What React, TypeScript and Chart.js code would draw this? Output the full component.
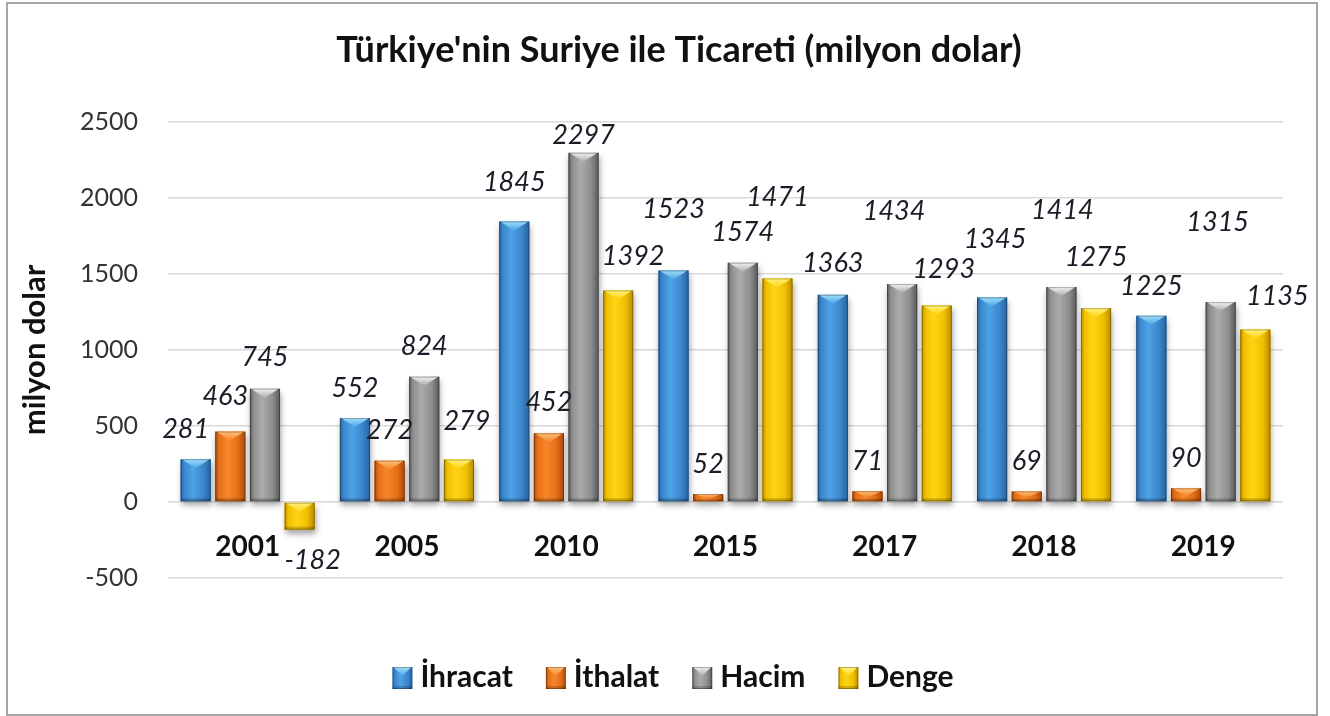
import React, { useEffect, useRef } from 'react';
import { Chart, registerables } from 'chart.js';

Chart.register(...registerables);

// ---- data ----
const years = ['2001', '2005', '2010', '2015', '2017', '2018', '2019'];
const ihracat = [281, 552, 1845, 1523, 1363, 1345, 1225];
const ithalat = [463, 272, 452, 52, 71, 69, 90];
const hacim = [745, 824, 2297, 1574, 1434, 1414, 1315];
const denge = [-182, 279, 1392, 1471, 1293, 1275, 1135];
const seriesNames = ['İhracat', 'İthalat', 'Hacim', 'Denge'];
const yMin = -500;
const yMax = 2500;
const yStep = 500;
const titleText = "Türkiye'nin Suriye ile Ticareti (milyon dolar)";
const yTitleText = 'milyon dolar';

// ---- styles ----
const FONT = 'Lato, "Open Sans", sans-serif';
const palettes = [
  { edge: '#27639e', mid: '#3b86cc', light: '#4ea2e6', hi: '#9fe0fb' },
  { edge: '#a9480c', mid: '#e56f17', light: '#f7862a', hi: '#ffbe7a' },
  { edge: '#595959', mid: '#8e8e8e', light: '#ababab', hi: '#f2f2f2' },
  { edge: '#b88a00', mid: '#f0c000', light: '#ffd414', hi: '#fff27a' },
];
// label nudges [dx, dy] in px relative to default placement (per series, per year)
const labelNudges = [
  [[-10, 0], [0, 0], [0, -9], [0, -31], [0, -2], [3, -28], [0, 0]],
  [[-5, -5], [0, 0], [0, -1], [0, 0], [0, 0], [0, 0], [0, 0]],
  [[0, -1], [0, 0], [0, 12], [0, 0], [-8, -43], [1, -47], [-3, -50]],
  [[13, 0], [8, -8], [15, -4], [0, -51], [7, -6], [0, -21], [22, -3]],
];

function draw3DBar(ctx: CanvasRenderingContext2D, l: number, t: number, w: number, h: number, pal: any, shadow: boolean) {
  if (h <= 0 || w <= 0) return;
  ctx.save();
  if (shadow) {
    ctx.shadowColor = 'rgba(0,0,0,0.35)';
    ctx.shadowBlur = 6;
    ctx.shadowOffsetX = 1;
    ctx.shadowOffsetY = 4;
  }
  const g = ctx.createLinearGradient(l, 0, l + w, 0);
  g.addColorStop(0, pal.edge);
  g.addColorStop(0.12, pal.mid);
  g.addColorStop(0.4, pal.light);
  g.addColorStop(0.75, pal.mid);
  g.addColorStop(1, pal.edge);
  ctx.fillStyle = g;
  ctx.fillRect(l, t, w, h);
  ctx.restore();

  ctx.save();
  ctx.beginPath();
  ctx.rect(l, t, w, h);
  ctx.clip();
  const b = Math.min(9, h * 0.6);
  const gt = ctx.createLinearGradient(0, t, 0, t + b);
  gt.addColorStop(0, pal.hi);
  gt.addColorStop(1, pal.light);
  ctx.fillStyle = gt;
  ctx.beginPath();
  ctx.moveTo(l + 1, t);
  ctx.lineTo(l + w - 1, t);
  ctx.lineTo(l + w / 2, t + b);
  ctx.closePath();
  ctx.fill();
  const bb = Math.min(3, h / 4);
  ctx.fillStyle = 'rgba(0,0,0,0.18)';
  ctx.fillRect(l, t + h - bb, w, bb);
  ctx.strokeStyle = 'rgba(0,0,0,0.28)';
  ctx.lineWidth = 1;
  ctx.strokeRect(l + 0.5, t + 0.5, w - 1, h - 1);
  ctx.restore();
}

const framePlugin = {
  id: 'frame',
  beforeDraw(chart: any) {
    const ctx = chart.ctx;
    ctx.save();
    ctx.fillStyle = '#ffffff';
    ctx.fillRect(0, 0, chart.width, chart.height);
    ctx.strokeStyle = '#a6a6a6';
    ctx.lineWidth = 2;
    ctx.strokeRect(7, 3, 1310, 712);
    ctx.fillStyle = '#111111';
    ctx.font = `bold 36px ${FONT}`;
    ctx.textAlign = 'center';
    ctx.textBaseline = 'middle';
    ctx.fillText(titleText, 679, 50);
    ctx.restore();
  },
};

const bars3dPlugin = {
  id: 'bars3d',
  afterDatasetsDraw(chart: any) {
    const ctx = chart.ctx;
    chart.data.datasets.forEach((ds: any, i: number) => {
      const meta = chart.getDatasetMeta(i);
      meta.data.forEach((el: any) => {
        const p = el.getProps(['x', 'y', 'base', 'width'], true);
        draw3DBar(ctx, p.x - p.width / 2, Math.min(p.y, p.base), p.width, Math.abs(p.base - p.y), palettes[i], true);
      });
    });
    ctx.save();
    ctx.font = `italic 27px ${FONT}`;
    ctx.fillStyle = '#1c1c28';
    ctx.textAlign = 'center';
    ctx.textBaseline = 'middle';
    chart.data.datasets.forEach((ds: any, i: number) => {
      const meta = chart.getDatasetMeta(i);
      meta.data.forEach((el: any, j: number) => {
        const v = ds.data[j];
        const p = el.getProps(['x', 'y'], true);
        const [dx, dy] = labelNudges[i][j];
        const y = v >= 0 ? p.y - 30 + dy : p.y + 31 + dy;
        ctx.fillText(String(v), p.x + dx, y);
      });
    });
    ctx.restore();
  },
  afterDraw(chart: any) {
    const ctx = chart.ctx;
    ctx.save();
    ctx.font = `bold 30px ${FONT}`;
    ctx.textBaseline = 'middle';
    ctx.textAlign = 'left';
    const iconW = 20, iconH = 22, gap = 8, itemGap = 33;
    const widths = seriesNames.map((n) => ctx.measureText(n).width);
    const total = widths.reduce((a, b) => a + b, 0) + seriesNames.length * (iconW + gap) + itemGap * (seriesNames.length - 1);
    let x = 673 - total / 2;
    const cy = 677;
    seriesNames.forEach((n, i) => {
      draw3DBar(ctx, x, cy - iconH / 2 + 1, iconW, iconH, palettes[i], false);
      ctx.fillStyle = '#111111';
      ctx.fillText(n, x + iconW + gap, cy);
      x += iconW + gap + widths[i] + itemGap;
    });
    ctx.restore();
  },
};

export default function App() {
  const ref = useRef<HTMLCanvasElement | null>(null);
  useEffect(() => {
    if (!ref.current) return;
    const series = [ihracat, ithalat, hacim, denge];
    const chart = new Chart(ref.current, {
      type: 'bar',
      data: {
        labels: years,
        datasets: series.map((d, i) => ({
          label: seriesNames[i],
          data: d,
          backgroundColor: palettes[i].mid,
          borderWidth: 0,
          categoryPercentage: 0.87,
          barPercentage: 0.87,
        })),
      },
      options: {
        responsive: false,
        animation: false,
        maintainAspectRatio: false,
        layout: { padding: { left: 0, right: 47, top: 122, bottom: 138 } },
        plugins: {
          legend: { display: false },
          title: { display: false },
          tooltip: { enabled: false },
        },
        scales: {
          x: {
            position: { y: 0 } as any,
            grid: { display: false, drawTicks: false },
            border: { display: false },
            ticks: {
              padding: 28,
              color: '#111111',
              font: { family: FONT, size: 28, weight: 'bold' },
            },
            afterFit: (s: any) => { s.height = 0; },
          },
          y: {
            min: yMin,
            max: yMax,
            grid: { color: '#d9d9d9', lineWidth: 1.5, drawTicks: false },
            border: { display: false },
            ticks: {
              stepSize: yStep,
              padding: 30,
              color: '#333333',
              font: { family: FONT, size: 25 },
              callback: (v: any) => String(v),
            },
            title: {
              display: true,
              text: yTitleText,
              color: '#111111',
              font: { family: FONT, size: 31, weight: 'bold' },
              padding: { top: 16, bottom: 0 },
            },
            afterFit: (s: any) => { s.width = 168; },
          },
        },
      },
      plugins: [framePlugin, bars3dPlugin],
    });
    return () => chart.destroy();
  }, []);
  return (
    <div style={{ position: 'fixed', left: 0, top: 0, width: 1330, height: 716 }}>
      <canvas ref={ref} width={1330} height={716} style={{ display: 'block', width: 1330, height: 716 }} />
    </div>
  );
}
